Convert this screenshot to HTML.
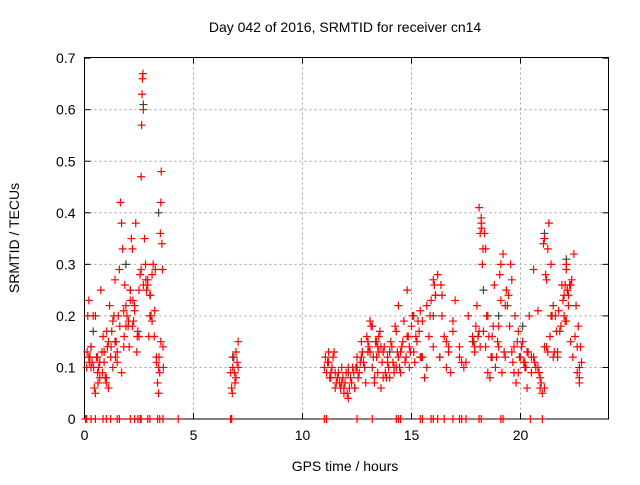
<!DOCTYPE html>
<html><head><meta charset="utf-8"><style>
body{margin:0;background:#fff;}
svg text{font-family:"Liberation Sans",sans-serif;font-size:14px;fill:#000;}
</style></head><body>
<svg id="chart" width="640" height="480" xmlns="http://www.w3.org/2000/svg">
<rect width="640" height="480" fill="#fff"/>
<g id="grid"></g>
<g id="axes"></g>
<g id="marks"></g>
<text x="345" y="32" text-anchor="middle">Day 042 of 2016, SRMTID for receiver cn14</text>
<text x="345" y="471" text-anchor="middle">GPS time / hours</text>
<text transform="translate(19,238) rotate(-90)" text-anchor="middle">SRMTID / TECUs</text>
</svg>
<script>
const xTicks=[0,5,10,15,20];
const yTicks=[0,0.1,0.2,0.3,0.4,0.5,0.6,0.7];
const yTickLabels=["0","0.1","0.2","0.3","0.4","0.5","0.6","0.7"];
const redTimes=[0.1,0.15,0.2,0.25,0.3,0.3,0.35,0.4,0.45,0.5,0.55,0.6,0.65,0.7,0.75,0.8,0.85,0.9,0.95,1.0,1.05,1.1,1.15,1.2,1.25,1.3,1.35,1.4,1.45,1.5,1.55,1.6,1.65,1.7,1.75,1.8,1.85,1.9,1.95,2.0,2.05,2.1,2.15,2.2,2.25,2.3,2.35,2.4,2.45,2.5,2.55,2.6,2.62,2.64,2.66,2.68,2.7,2.75,2.8,2.85,2.9,2.95,3.0,3.05,3.1,3.15,3.2,3.25,3.3,3.35,3.4,3.45,3.5,3.52,3.55,3.58,3.6,3.62,
0.3,0.5,0.7,0.9,1.1,1.3,1.5,1.7,1.9,2.1,2.3,2.5,2.7,2.9,3.1,3.3,3.5,0.2,0.6,1.0,1.4,1.8,2.2,2.6,3.0,3.4,
6.7,6.75,6.8,6.85,6.9,6.95,7.0,6.78,6.88,6.95,7.05,7.05,
11.0,11.1,11.2,11.3,11.4,11.5,11.6,11.7,11.8,11.9,12.0,12.1,12.2,12.3,12.4,12.5,12.6,12.7,12.8,12.9,13.0,13.1,13.2,13.3,13.4,13.5,13.6,13.7,13.8,13.9,14.0,14.1,14.2,14.3,14.4,14.5,14.6,14.7,14.8,14.9,15.0,15.1,15.2,15.3,15.4,15.5,15.6,15.7,15.8,15.9,16.0,16.1,16.2,16.3,16.4,16.5,16.6,16.7,16.8,16.9,17.0,17.2,17.4,17.6,17.8,18.0,18.1,18.2,18.25,18.3,18.4,18.5,18.6,18.7,18.8,18.9,19.0,19.1,19.2,19.3,19.4,19.5,19.6,19.7,19.8,19.9,20.0,20.1,20.2,20.3,20.4,20.5,20.6,20.7,20.8,20.9,21.0,21.1,21.2,21.3,21.4,21.5,21.6,21.7,21.8,21.9,22.0,22.1,22.2,22.3,22.4,22.5,22.6,22.7,22.8,
11.2,11.5,11.8,12.1,12.4,12.7,13.0,13.3,13.6,13.9,14.2,14.5,14.8,15.1,15.4,15.7,16.0,16.3,16.6,16.9,17.2,17.5,17.8,18.1,18.4,18.7,19.0,19.3,19.6,19.9,20.2,20.5,20.8,21.1,21.4,21.7,22.0,22.3,22.6,
11.3,11.9,12.5,13.1,13.7,14.3,14.9,15.5,16.1,16.7,17.3,17.9,18.5,19.1,19.7,20.3,20.9,21.5,22.1,22.7,15.85,16.05,18.15,18.2,19.05,19.45,21.05,21.1,22.2,22.25,14.4,13.2,
11.05,11.15,11.25,11.35,11.45,11.55,11.65,11.75,11.85,11.95,12.05,12.15,12.25,12.35,12.45,12.55,12.65,12.75,12.85,12.95,13.05,13.15,13.25,13.35,13.45,13.55,13.65,13.75,13.85,13.95,14.05,14.15,14.25,14.35,14.45,14.55,14.65,14.75,14.85,14.95,15.05,15.15,15.25,15.35,15.45,
17.85,17.9,17.95,18.05,18.15,18.35,18.45,18.55,18.65,18.75,18.85,18.95,19.15,19.25,19.35,19.55,19.65,19.75,19.85,19.95,20.05,20.15,20.25,20.35,20.85,20.95,21.15,21.25,21.35,21.45,21.55,21.65,21.75,21.85,21.95,22.05,22.15,22.35,22.45,22.55,22.65,22.75,
0.12,0.22,0.42,0.62,0.82,1.02,1.22,1.42,1.62,1.82,2.02,2.22,2.42,2.82,3.02,3.22,3.42,3.48,
13.4,13.45,13.5,16.35,16.4,18.22,18.28,20.6,20.65,21.2,21.25,22.05,22.1,22.15];
const redValues=[0.1,0.2,0.23,0.12,0.1,0.14,0.11,0.2,0.06,0.05,0.12,0.09,0.1,0.11,0.25,0.13,0.16,0.11,0.08,0.08,0.14,0.15,0.22,0.12,0.17,0.1,0.2,0.27,0.15,0.13,0.2,0.29,0.42,0.38,0.33,0.21,0.26,0.22,0.2,0.18,0.14,0.25,0.35,0.33,0.19,0.22,0.38,0.13,0.17,0.25,0.28,0.47,0.57,0.63,0.66,0.67,0.6,0.35,0.3,0.25,0.26,0.16,0.24,0.2,0.28,0.3,0.16,0.29,0.11,0.07,0.05,0.09,0.42,0.48,0.34,0.29,0.14,0.1,
0.14,0.2,0.08,0.13,0.06,0.19,0.11,0.09,0.18,0.23,0.21,0.16,0.26,0.27,0.19,0.12,0.15,0.12,0.12,0.07,0.15,0.14,0.18,0.29,0.2,0.1,
0.09,0.06,0.1,0.12,0.07,0.08,0.11,0.05,0.09,0.13,0.15,0.1,
0.1,0.09,0.13,0.08,0.12,0.06,0.08,0.07,0.1,0.05,0.09,0.04,0.08,0.1,0.06,0.12,0.09,0.15,0.11,0.07,0.13,0.19,0.1,0.07,0.12,0.16,0.06,0.13,0.09,0.12,0.08,0.14,0.1,0.17,0.12,0.09,0.15,0.11,0.25,0.1,0.18,0.13,0.16,0.19,0.21,0.12,0.08,0.1,0.16,0.23,0.14,0.24,0.28,0.12,0.2,0.16,0.1,0.14,0.09,0.17,0.23,0.12,0.1,0.2,0.15,0.22,0.41,0.38,0.3,0.17,0.14,0.2,0.08,0.16,0.26,0.12,0.18,0.3,0.32,0.12,0.22,0.18,0.27,0.14,0.07,0.09,0.12,0.15,0.1,0.06,0.2,0.12,0.29,0.1,0.21,0.08,0.05,0.06,0.14,0.38,0.3,0.22,0.2,0.13,0.17,0.26,0.24,0.3,0.22,0.26,0.12,0.16,0.09,0.07,0.11,
0.11,0.09,0.07,0.1,0.06,0.12,0.15,0.08,0.14,0.11,0.09,0.13,0.16,0.2,0.12,0.22,0.27,0.12,0.15,0.19,0.14,0.11,0.16,0.17,0.33,0.12,0.14,0.22,0.13,0.17,0.11,0.09,0.1,0.14,0.2,0.12,0.2,0.15,0.14,
0.09,0.06,0.1,0.13,0.08,0.1,0.14,0.19,0.24,0.13,0.11,0.14,0.09,0.23,0.09,0.13,0.06,0.12,0.19,0.08,0.2,0.26,0.36,0.39,0.28,0.24,0.34,0.35,0.24,0.26,0.22,0.18,
0.12,0.11,0.08,0.1,0.13,0.07,0.09,0.06,0.08,0.07,0.05,0.06,0.07,0.09,0.1,0.08,0.11,0.13,0.1,0.16,0.14,0.18,0.12,0.15,0.09,0.17,0.11,0.14,0.08,0.1,0.15,0.11,0.18,0.13,0.1,0.14,0.19,0.12,0.16,0.13,0.2,0.11,0.15,0.17,0.12,
0.15,0.13,0.18,0.16,0.14,0.36,0.2,0.16,0.12,0.18,0.1,0.15,0.09,0.13,0.25,0.3,0.11,0.2,0.15,0.12,0.14,0.11,0.1,0.13,0.09,0.07,0.28,0.13,0.16,0.2,0.13,0.17,0.21,0.18,0.23,0.19,0.25,0.27,0.32,0.22,0.18,0.14,
0.13,0.11,0.1,0.07,0.09,0.17,0.14,0.12,0.18,0.16,0.19,0.23,0.16,0.27,0.24,0.21,0.12,0.36,
0.15,0.14,0.13,0.26,0.24,0.37,0.33,0.12,0.11,0.27,0.33,0.26,0.29,0.25];
const blackTimes=[0.4,1.9,2.1,2.7,3.4,6.8,12.1,14.0,16.0,18.3,19.0,20.1,21.1,22.1,22.7];
const blackValues=[0.17,0.3,0.25,0.61,0.4,0.12,0.09,0.13,0.2,0.25,0.2,0.18,0.36,0.31,0.1];
const zeroTimes=[0.05,0.1,0.3,0.5,0.85,1.0,1.2,1.5,1.6,2.1,2.3,2.45,2.55,2.6,2.9,3.0,3.35,3.45,3.6,4.3,6.7,6.75,11.0,11.1,12.5,13.2,14.3,14.4,14.5,15.4,15.5,15.9,16.0,16.2,16.5,16.9,17.2,17.3,17.5,18.1,18.2,19.1,19.2,20.45,21.0];
const X=t=>84.5+t*21.8;
const Y=v=>419-v*515.5;
const NS="http://www.w3.org/2000/svg";
function mk(tag,attrs,parent){const e=document.createElementNS(NS,tag);for(const k in attrs)e.setAttribute(k,attrs[k]);parent.appendChild(e);return e;}
const grid=document.getElementById('grid'),axes=document.getElementById('axes'),marks=document.getElementById('marks');
const L=84.5,R=608.5,T=57.5,B=419;
yTicks.forEach((v,i)=>{
 if(i>0&&i<yTicks.length-1){const g=mk('line',{x1:L,x2:R,y1:Y(v),y2:Y(v),stroke:'#a0a0a0','stroke-dasharray':'2,3'},grid);
 
 }
 mk('line',{x1:L,x2:L+6,y1:Y(v),y2:Y(v),stroke:'#000'},axes);
 mk('line',{x1:R-6,x2:R,y1:Y(v),y2:Y(v),stroke:'#000'},axes);
 const t=mk('text',{x:L-9,y:Y(v)+5,'text-anchor':'end'},axes);t.textContent=yTickLabels[i];
 
 
});
xTicks.forEach(v=>{
 if(v>0){const g=mk('line',{x1:X(v),x2:X(v),y1:T,y2:B,stroke:'#a0a0a0','stroke-dasharray':'2,3'},grid);
 
 }
 mk('line',{x1:X(v),x2:X(v),y1:B,y2:B-6,stroke:'#000'},axes);
 mk('line',{x1:X(v),x2:X(v),y1:T,y2:T+6,stroke:'#000'},axes);
 const t=mk('text',{x:X(v),y:B+21,'text-anchor':'middle'},axes);t.textContent=String(v);
 
 
});
const frame=mk('rect',{x:L,y:T,width:R-L,height:B-T,fill:'none',stroke:'#000'},axes);


function plus(t,v,col){const x=X(t),y=Y(v);const p=mk('path',{d:`M${x-4} ${y}H${x+4}M${x} ${y-4}V${y+4}`,stroke:col,'stroke-width':1.2},marks);
 
 }
blackTimes.forEach((t,i)=>plus(t,blackValues[i],'#404040'));
redTimes.forEach((t,i)=>plus(t,redValues[i],'#ff0000'));
zeroTimes.forEach(t=>plus(t,0,'#ff0000'));
</script>
</body></html>
